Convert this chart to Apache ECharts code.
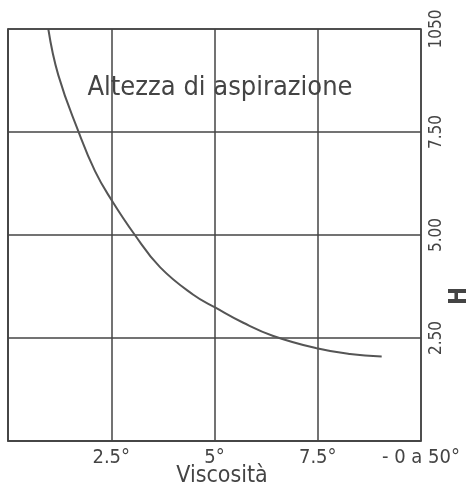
<!DOCTYPE html>
<html><head><meta charset="utf-8">
<script src="https://cdn.jsdelivr.net/npm/echarts@6/dist/echarts.min.js"></script>
<style>html,body{margin:0;padding:0;background:#fff}#c{width:473px;height:490px}</style>
</head><body><div id="c"></div>
<script>
const viscosity = [0.976, 1.218, 1.702, 2.107, 2.494, 3.051, 3.680, 4.487, 5.036, 5.697, 6.424, 7.475, 8.281, 9.048];
const height    = [10.00, 8.88, 7.52, 6.55, 5.87, 5.03, 4.22, 3.55, 3.23, 2.87, 2.55, 2.25, 2.11, 2.05];
const xTickLabels = {2.5: '2.5°', 5: '5°', 7.5: '7.5°', 10: '- 0 a 50°'};
const yTickLabels = {2.5: '2.50', 5: '5.00', 7.5: '7.50', 10: '1050'};
const FONT = '"Liberation Sans Narrow", "DejaVu Sans Condensed", "Roboto Condensed", sans-serif';
const chart = echarts.init(document.getElementById('c'));
chart.setOption({
  animation: false,
  grid: {left: 8, right: 52, top: 29, bottom: 49, containLabel: false, outerBoundsMode: 'none'},
  xAxis: {
    type: 'value', min: 0, max: 10, interval: 2.5,
    axisLine: {show: true, lineStyle: {color: '#444', width: 1.5}},
    axisTick: {show: false},
    splitLine: {show: true, lineStyle: {color: '#444', width: 1.5}},
    axisLabel: {fontFamily: FONT, fontSize: 20, color: '#444', margin: 7,
      formatter: v => xTickLabels[v] || ''}
  },
  yAxis: {
    type: 'value', min: 0, max: 10, interval: 2.5, position: 'right',
    axisLine: {show: true, lineStyle: {color: '#444', width: 1.5}},
    axisTick: {show: false},
    splitLine: {show: true, lineStyle: {color: '#444', width: 1.5}},
    axisLabel: {fontFamily: FONT, fontSize: 17, color: '#444', margin: 7, rotate: 90,
      formatter: v => yTickLabels[v] || ''}
  },
  graphic: [
    {type: 'rect', shape: {x: 8, y: 29, width: 413, height: 412}, style: {fill: 'none', stroke: '#444', lineWidth: 1.5}, silent: true, z: 10},
    {type: 'text', x: 220, y: 88, style: {text: 'Altezza di aspirazione', font: '27px ' + FONT, fill: '#444', align: 'center', verticalAlign: 'middle'}, z: 20},
    {type: 'text', x: 222, y: 476, style: {text: 'Viscosità', font: '23px ' + FONT, fill: '#444', align: 'center', verticalAlign: 'middle'}, z: 20},
    {type: 'text', x: 460, y: 296, rotation: Math.PI / 2, style: {text: 'H', font: 'bold 24px ' + FONT, fill: '#444', align: 'center', verticalAlign: 'middle'}, z: 20}
  ],
  series: [{
    type: 'line', smooth: 0.45, symbol: 'none',
    data: viscosity.map((v, i) => [v, height[i]]),
    lineStyle: {color: '#555', width: 2}
  }]
});
</script></body></html>
